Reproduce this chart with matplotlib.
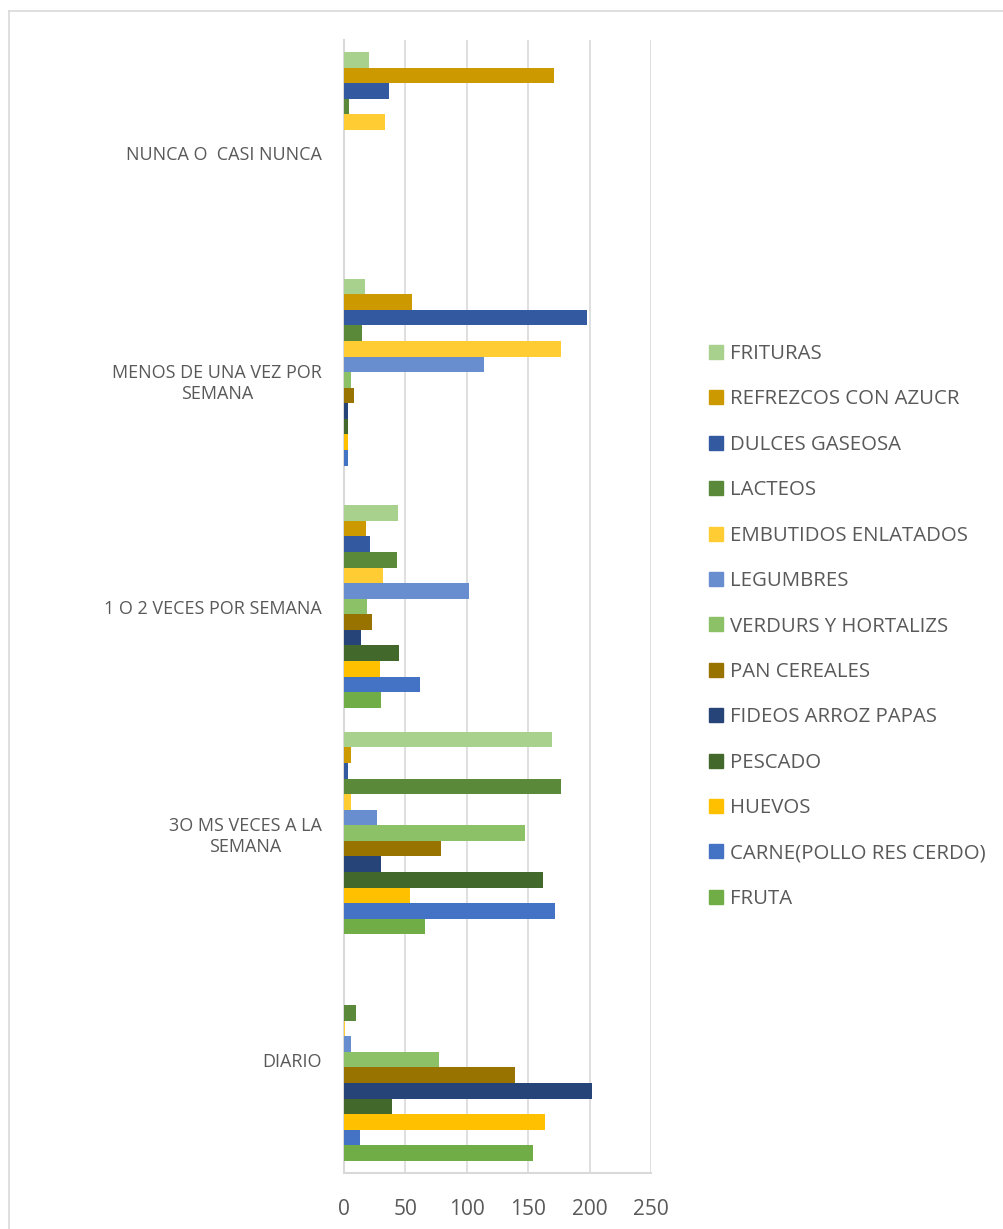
import numpy as np
import matplotlib
matplotlib.use("Agg")
import matplotlib.pyplot as plt
from matplotlib.lines import Line2D

plt.rcParams['font.family'] = ['Open Sans', 'DejaVu Sans']

# categories, bottom to top
categories = ['DIARIO', '3O MS VECES A LA\nSEMANA', '1 O 2 VECES POR SEMANA',
              'MENOS DE UNA VEZ POR\nSEMANA', 'NUNCA O  CASI NUNCA']

# series, drawn bottom to top inside each group
fruta      = [154, 66, 30, 0, 0]
carne      = [13, 172, 62, 3, 0]
huevos     = [164, 54, 29, 3, 0]
pescado    = [39, 162, 45, 3, 0]
fideos     = [202, 30, 14, 3, 0]
pan        = [139, 79, 23, 8, 0]
verdurs    = [77, 147, 19, 6, 0]
legumbres  = [6, 27, 102, 114, 0]
embutidos  = [1, 6, 32, 177, 33]
lacteos    = [10, 177, 43, 15, 4]
dulces     = [0, 3, 21, 198, 37]
refrezcos  = [0, 6, 18, 55, 171]
frituras   = [0, 169, 44, 17, 20]

series = [
    ('FRUTA', fruta, '#70AD47'),
    ('CARNE(POLLO RES CERDO)', carne, '#4472C4'),
    ('HUEVOS', huevos, '#FFC000'),
    ('PESCADO', pescado, '#43682B'),
    ('FIDEOS ARROZ PAPAS', fideos, '#264478'),
    ('PAN CEREALES', pan, '#997300'),
    ('VERDURS Y HORTALIZS', verdurs, '#8CC168'),
    ('LEGUMBRES', legumbres, '#698ED0'),
    ('EMBUTIDOS ENLATADOS', embutidos, '#FFCD33'),
    ('LACTEOS', lacteos, '#5A8A39'),
    ('DULCES GASEOSA', dulces, '#335AA1'),
    ('REFREZCOS CON AZUCR', refrezcos, '#CC9A00'),
    ('FRITURAS', frituras, '#A9D18E'),
]

txt = '#595959'
grid = '#D9D9D9'

fig = plt.figure(figsize=(10.04, 12.29), dpi=100)
ax = fig.add_axes([344 / 1004, 56 / 1229, 307 / 1004, 1133 / 1229])

y = np.arange(len(categories))
h = 0.0688
n = len(series)
for j, (name, vals, col) in enumerate(series):
    ax.barh(y + (j - (n - 1) / 2) * h, vals, height=h, color=col, label=name, zorder=3)

ax.set_xlim(0, 250)
ax.set_ylim(-0.5, len(categories) - 0.5)
ax.set_xticks(np.arange(0, 251, 50))
ax.set_yticks(y)
ax.set_yticklabels(categories, multialignment='center')
ax.tick_params(axis='y', length=0, pad=16, labelsize=13, labelcolor=txt)
ax.tick_params(axis='x', length=0, pad=19, labelsize=15, labelcolor=txt)
ax.grid(axis='x', color=grid, lw=1.2, zorder=0)
for s in ['top', 'right']:
    ax.spines[s].set_visible(False)
for s in ['left', 'bottom']:
    ax.spines[s].set_color(grid)
    ax.spines[s].set_linewidth(1.5)

handles = [Line2D([], [], marker='s', ls='', markersize=9.5, color=col)
           for name, vals, col in series][::-1]
labels = [name for name, vals, col in series][::-1]
fig.legend(handles, labels, loc='upper left', bbox_to_anchor=(709 / 1004, 1 - 344 / 1229),
           frameon=False, fontsize=14.7, labelcolor=txt, handlelength=0.7,
           handletextpad=0.35, labelspacing=1.245, borderaxespad=0, borderpad=0)

# outer chart frame (only left and top edges are inside the picture)
fig.add_artist(Line2D([9 / 1004, 9 / 1004], [0, 1 - 11 / 1229], color=grid, lw=1.2,
                      transform=fig.transFigure))
fig.add_artist(Line2D([9 / 1004, 1], [1 - 11 / 1229, 1 - 11 / 1229], color=grid, lw=1.2,
                      transform=fig.transFigure))

fig.savefig('out.png', dpi=100)
